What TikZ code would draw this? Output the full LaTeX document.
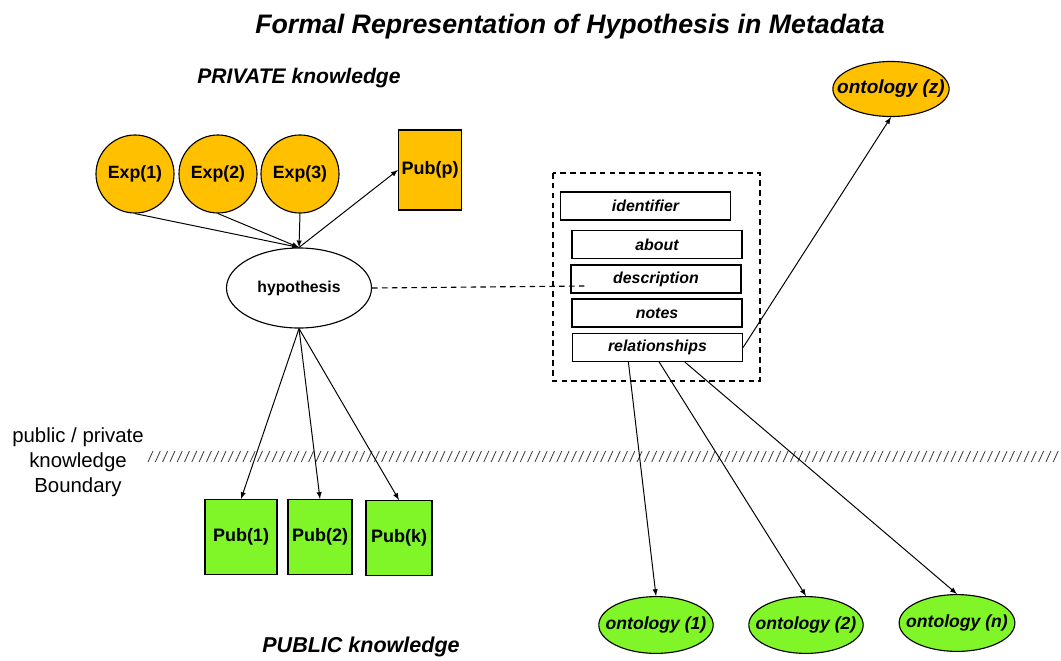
\documentclass[tikz,border=0pt]{standalone}
\usepackage{fontspec}
\setmainfont{Liberation Sans}
\usetikzlibrary{arrows}
\usetikzlibrary{shapes.geometric, positioning, calc}
\definecolor{expgold}{RGB}{255,192,0}
\definecolor{pubgreen}{RGB}{128,245,40}

\begin{document}
\begin{tikzpicture}[x=0.025cm, y=-0.025cm,
    every node/.style={inner sep=0pt},
    exp/.style={circle, fill=expgold, draw=black, line width=0.8pt, minimum size=1.95cm, font=\fontsize{12.6}{14}\selectfont\bfseries},
    pubbox/.style={rectangle, draw=black, line width=0.8pt, font=\fontsize{12.8}{14}\selectfont\bfseries},
    field/.style={rectangle, draw=black, line width=0.8pt, minimum width=4.25cm, minimum height=0.7cm, font=\fontsize{11.3}{13}\selectfont\bfseries\itshape},
    onto/.style={ellipse, draw=black, line width=0.8pt, inner xsep=-7pt, minimum width=2.85cm, minimum height=1.42cm, font=\fontsize{12.5}{14}\selectfont\bfseries\itshape},
    link/.style={-latex, line width=0.7pt}]

    \useasboundingbox (0,0) rectangle (1061,660);

    % headings
    \node (title) at (570,27) {\fontsize{19}{22}\selectfont\bfseries\itshape Formal Representation of Hypothesis in Metadata};
    \node (private) at (299,78) {\fontsize{15}{17}\selectfont\bfseries\itshape PRIVATE knowledge};
    \node (public) at (361,647) {\fontsize{15.3}{17}\selectfont\bfseries\itshape PUBLIC knowledge};
    \node[align=center, font=\fontsize{14.5}{17.8}\selectfont] (bound) at (78,462) {public / private\\knowledge\\Boundary};

    % boundary line
    \foreach \i in {0,...,124}
      \draw[gray!50!black, line width=0.6pt] ({148+7.3*\i},462) -- ++(5,-11);

    % private side
    \node[exp] (e1) at (135,174) {Exp(1)};
    \node[exp] (e2) at (218,174) {Exp(2)};
    \node[exp] (e3) at (300,174) {Exp(3)};
    \node[pubbox, fill=expgold, minimum width=1.575cm, minimum height=2cm] (pubp) at (430,170) {Pub(p)};
    \node[ellipse, draw=black, line width=0.8pt, minimum width=3.625cm, minimum height=2cm, font=\fontsize{11.2}{13}\selectfont\bfseries] (hyp) at (299,288) {hypothesis};

    % public side
    \node[pubbox, fill=pubgreen, minimum width=1.8cm, minimum height=1.87cm] (p1) at (241,537) {Pub(1)};
    \node[pubbox, fill=pubgreen, minimum width=1.6cm, minimum height=1.87cm] (p2) at (320,537) {Pub(2)};
    \node[pubbox, fill=pubgreen, minimum width=1.65cm, minimum height=1.87cm] (pk) at (399,538) {Pub(k)};

    % metadata
    \draw[dashed, dash pattern=on 4pt off 3pt, line width=0.8pt] (553,173) rectangle (760,381);
    \node[field] (ident) at (645.5,206) {identifier};
    \node[field] (about) at (657,244.5) {about};
    \node[field] (descr) at (656,279) {description};
    \node[field] (notes) at (657,313) {notes};
    \node[field] (rel) at (657.5,347.5) {relationships};

    \node[onto, fill=expgold, inner xsep=-9pt, minimum width=2.875cm, minimum height=1.375cm, font=\fontsize{13.5}{15}\selectfont\bfseries\itshape] (oz) at (891,89) {ontology (z)};
    \node[onto, fill=pubgreen] (o1) at (656,625) {ontology (1)};
    \node[onto, fill=pubgreen] (o2) at (806,625) {ontology (2)};
    \node[onto, fill=pubgreen] (on) at (957,623) {ontology (n)};

    \coordinate (dend) at (585,286);

    % connectors
    \draw[link] (e1.south) -- (hyp.north);
    \draw[link] (e2.south) -- (hyp.north);
    \draw[link] (e3.south) -- (hyp.north);
    \draw[link] (hyp.north) -- (pubp.west);
    \draw[link] (hyp.south) -- (p1.north);
    \draw[link] (hyp.south) -- (p2.north);
    \draw[link] (hyp.south) -- (pk.north);
    \draw[dashed, dash pattern=on 4pt off 3pt, line width=0.8pt] (hyp.east) -- (dend);
    \draw[link] (rel.east) -- (oz.south);
    \draw[link] ($(rel.south west)!0.33!(rel.south east)$) -- (o1.north);
    \draw[link] ($(rel.south west)!0.51!(rel.south east)$) -- (o2.north);
    \draw[link] ($(rel.south west)!0.66!(rel.south east)$) -- (on.north);

\end{tikzpicture}
\end{document}
